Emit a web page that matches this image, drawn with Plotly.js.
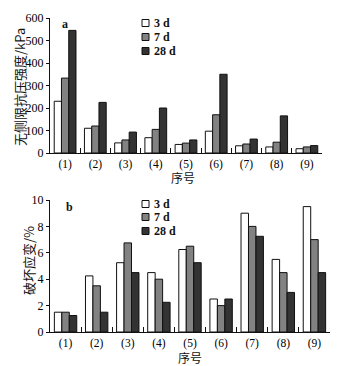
<!DOCTYPE html>
<html><head><meta charset="utf-8">
<script src="https://cdn.plot.ly/plotly-3.0.1.min.js"></script>
<style>body{margin:0;padding:0;background:#fff}#chart{width:344px;height:366px}</style>
</head><body><div id="chart"></div>
<script>
const categories = ['(1)','(2)','(3)','(4)','(5)','(6)','(7)','(8)','(9)'];
const seriesNames = ['3 d','7 d','28 d'];
const strength3d = [230,110,45,68,38,97,32,27,19];
const strength7d = [333,120,58,105,44,170,40,48,27];
const strength28d = [545,225,93,200,58,350,62,165,33];
const strain3d = [1.5,4.25,5.25,4.5,6.25,2.5,9.0,5.5,9.5];
const strain7d = [1.5,3.5,6.75,4.0,6.5,2.0,8.0,4.5,7.0];
const strain28d = [1.25,1.5,4.5,2.25,5.25,2.5,7.25,3.0,4.5];
const colors = ['#ffffff','#828282','#333333'];

const W=344,H=366,ML=50,MR=14,MT=18,MB=30;
const PW=W-ML-MR, PH=H-MT-MB;
const px=x=>(x-ML)/PW, py=y=>(H-MB-y)/PH;

const topData = [strength3d,strength7d,strength28d];
const botData = [strain3d,strain7d,strain28d];
const traces = [];
topData.forEach((d,i)=>traces.push({type:'bar',x:categories,y:d,name:seriesNames[i],showlegend:false,
  marker:{color:colors[i],line:{color:'#111',width:1}},xaxis:'x',yaxis:'y'}));
botData.forEach((d,i)=>traces.push({type:'bar',x:categories,y:d,name:seriesNames[i],showlegend:false,
  marker:{color:colors[i],line:{color:'#111',width:1}},xaxis:'x2',yaxis:'y2'}));

const tf = {family:'Liberation Serif, serif',size:12,color:'#000'};
const tfx = {family:'Liberation Serif, serif',size:11.5,color:'#000'};
const cjk = {family:'Noto Sans CJK SC',size:13,color:'#111'};
const cjkx = {family:'Noto Sans CJK SC',size:12,color:'#111'};
const xbase = {type:'category',showline:true,linecolor:'#111',linewidth:1.2,ticks:'inside',ticklen:5,
  tickson:'boundaries',tickcolor:'#111',tickfont:tfx,showgrid:false,zeroline:false};
const ybase = {showline:true,linecolor:'#111',linewidth:1.2,ticks:'outside',ticklen:3,tickcolor:'#111',
  tickfont:tf,showgrid:false,zeroline:false};

const shapes=[], annotations=[];
// manual legends (swatches + labels)
const legTopRows=[23,37,51], legBotRows=[204,217,231];
[legTopRows,legBotRows].forEach(rows=>{
  rows.forEach((r,i)=>{
    shapes.push({type:'rect',xref:'paper',yref:'paper',x0:px(142),x1:px(149),y0:py(r+3.5),y1:py(r-3.5),
      fillcolor:colors[i],line:{color:'#111',width:1}});
    annotations.push({text:'<b>'+seriesNames[i]+'</b>',xref:'paper',yref:'paper',x:px(152),y:py(r),
      xanchor:'left',yanchor:'middle',showarrow:false,font:{family:'Liberation Serif, serif',size:12,color:'#111'}});
  });
});
annotations.push({text:'<b>a</b>',xref:'paper',yref:'paper',x:px(60),y:py(24),showarrow:false,xanchor:'left',yanchor:'middle',
  font:{family:'Liberation Serif, serif',size:12,color:'#111'}});
annotations.push({text:'<b>b</b>',xref:'paper',yref:'paper',x:px(64),y:py(207),showarrow:false,xanchor:'left',yanchor:'middle',
  font:{family:'Liberation Serif, serif',size:12,color:'#111'}});
// axis titles
annotations.push({text:'序号',xref:'paper',yref:'paper',x:px(183),y:py(186),height:14,showarrow:false,xanchor:'center',yanchor:'bottom',font:cjkx});
annotations.push({text:'序号',xref:'paper',yref:'paper',x:px(190),y:py(366),height:14,showarrow:false,xanchor:'center',yanchor:'bottom',font:cjkx});
annotations.push({text:'无侧限抗压强度/kPa',xref:'paper',yref:'paper',x:px(20),y:py(87),textangle:-90,showarrow:false,
  xanchor:'center',yanchor:'middle',font:cjk});
annotations.push({text:'破坏应变/%',xref:'paper',yref:'paper',x:px(28),y:py(261),textangle:-90,showarrow:false,
  xanchor:'center',yanchor:'middle',font:cjk});

const layout = {
  width:W,height:H,margin:{l:ML,r:MR,t:MT,b:MB},
  paper_bgcolor:'#fff',plot_bgcolor:'#fff',showlegend:false,
  barmode:'group',bargap:0.28,bargroupgap:0,
  xaxis:Object.assign({},xbase,{domain:[0,px(322)],anchor:'y'}),
  yaxis:Object.assign({},ybase,{domain:[py(153),py(18)],range:[0,600],dtick:100,anchor:'x'}),
  xaxis2:Object.assign({},xbase,{domain:[0,px(330)],anchor:'y2'}),
  yaxis2:Object.assign({},ybase,{domain:[py(332),py(200)],range:[0,10],dtick:2,anchor:'x2'}),
  shapes:shapes, annotations:annotations
};
Plotly.newPlot('chart',traces,layout,{displayModeBar:false,staticPlot:true});
</script></body></html>
